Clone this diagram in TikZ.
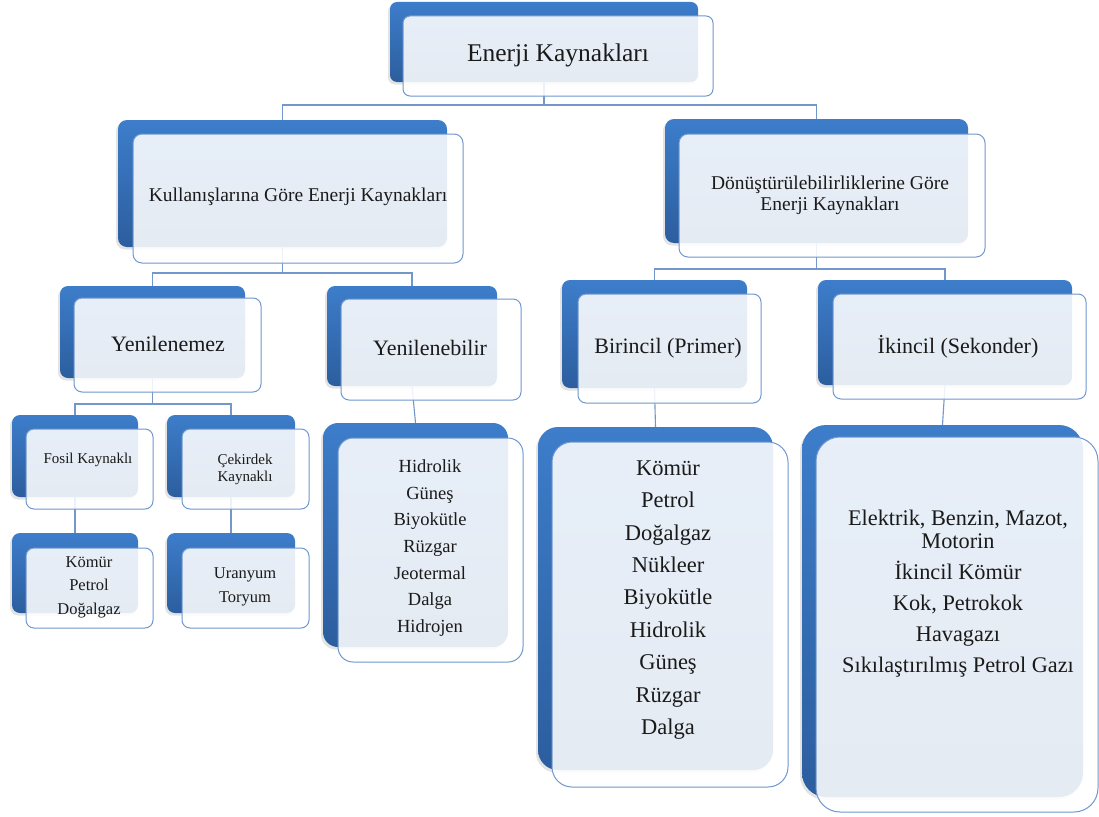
\documentclass[tikz,border=0pt]{standalone}
\usepackage{fontspec}
\setmainfont{Liberation Serif}
\usetikzlibrary{shadows}
\pgfdeclarelayer{bgzero}
\pgfdeclarelayer{bgconn}
\pgfsetlayers{bgzero,bgconn,main}
\definecolor{bTop}{HTML}{3D7DCA}
\definecolor{bBot}{HTML}{2C5E9E}
\definecolor{fBorder}{HTML}{7098CF}
\definecolor{cConn}{HTML}{7397CB}
\definecolor{cTxt}{HTML}{1A1A1A}
\tikzset{
  backbox/.style={rectangle, inner sep=0pt, outer sep=0pt, top color=bTop, bottom color=bBot, draw=none,
    drop shadow={shadow xshift=-2pt, shadow yshift=-2.5pt, opacity=.22}},
  frontbox/.style={rectangle, inner sep=0pt, outer sep=0pt, draw=fBorder, line width=1pt, fill=white, fill opacity=.88},
  connector/.style={draw=cConn, line width=1.1pt},
  lbl/.style={text=cTxt, align=center, inner sep=0pt},
}
\newcommand\mkbox[7]{%
  \pgfmathsetmacro\bxcx{(#3+#5)/2}\pgfmathsetmacro\bxcy{(#4+#6)/2}%
  \pgfmathsetmacro\bxw{#5-#3}\pgfmathsetmacro\bxh{#6-#4}%
  \node[#2, rounded corners=#7pt, minimum width=\bxw pt, minimum height=\bxh pt] (#1) at (\bxcx,\bxcy) {};%
}
\begin{document}
\begin{tikzpicture}[x=1pt,y=-1pt]
\begin{pgfonlayer}{bgzero}
\useasboundingbox[fill=white] (0,0) rectangle (1099,816);
\end{pgfonlayer}

% level 0
\mkbox{root-b}{backbox}{390}{2}{698}{82}{7}
\mkbox{root}{frontbox}{403}{16}{713}{96}{7}
\node[lbl,font=\fontsize{25.5}{28}\selectfont] (root-t) at (558,55) {Enerji Kaynakları};

% level 1
\mkbox{ka-b}{backbox}{118}{120}{447}{247}{9}
\mkbox{ka}{frontbox}{133}{134}{463}{263}{9}
\node[lbl,font=\fontsize{19.5}{21}\selectfont] (ka-t) at (298,197) {Kullanışlarına Göre Enerji Kaynakları};

\mkbox{do-b}{backbox}{665}{119}{968}{243}{9}
\mkbox{do}{frontbox}{679}{134}{985}{257}{9}
\node[lbl,font=\fontsize{19.5}{21}\selectfont] (do-t) at (830,195) {Dönüştürülebilirliklerine Göre\\Enerji Kaynakları};

% level 2
\mkbox{ym-b}{backbox}{60}{286}{245}{378}{8}
\mkbox{ym}{frontbox}{74}{298}{261}{392}{8}
\node[lbl,font=\fontsize{22}{24}\selectfont] (ym-t) at (168,344) {Yenilenemez};

\mkbox{yb-b}{backbox}{327}{286}{497}{386}{8}
\mkbox{yb}{frontbox}{341}{299}{521}{400}{8}
\node[lbl,font=\fontsize{22}{24}\selectfont] (yb-t) at (430,348) {Yenilenebilir};

\mkbox{bi-b}{backbox}{562}{280}{747}{388}{8}
\mkbox{bi}{frontbox}{578}{294}{761}{403}{8}
\node[lbl,font=\fontsize{22}{24}\selectfont] (bi-t) at (668,348) {Birincil (Primer)};

\mkbox{ik-b}{backbox}{818}{280}{1072}{385}{8}
\mkbox{ik}{frontbox}{833}{294}{1086}{399}{8}
\node[lbl,font=\fontsize{22}{24}\selectfont] (ik-t) at (958,347) {İkincil (Sekonder)};

% level 3
\mkbox{fo-b}{backbox}{12}{415}{138}{497}{8}
\mkbox{fo}{frontbox}{26}{429}{153}{509}{8}
\node[lbl,font=\fontsize{15}{17}\selectfont] (fo-t) at (88,460) {Fosil Kaynaklı};

\mkbox{ce-b}{backbox}{167}{415}{295}{497}{8}
\mkbox{ce}{frontbox}{182}{429}{309}{509}{8}
\node[lbl,font=\fontsize{15}{17}\selectfont] (ce-t) at (245,469) {Çekirdek\\Kaynaklı};

\mkbox{ybl-b}{backbox}{323}{423}{508}{647}{15}
\mkbox{ybl}{frontbox}{338}{438}{523}{662}{15}
\node[lbl,font=\fontsize{18.5}{26.7}\selectfont] (ybl-t) at (430,548) {Hidrolik\\Güneş\\Biyokütle\\Rüzgar\\Jeotermal\\Dalga\\Hidrojen};

\mkbox{bil-b}{backbox}{538}{427}{773}{770}{20}
\mkbox{bil}{frontbox}{552}{442}{788}{787}{20}
\node[lbl,font=\fontsize{22.5}{32.4}\selectfont] (bil-t) at (668,600) {Kömür\\Petrol\\Doğalgaz\\Nükleer\\Biyokütle\\Hidrolik\\Güneş\\Rüzgar\\Dalga};

\mkbox{ikl-b}{backbox}{802}{425}{1083}{797}{24}
\mkbox{ikl}{frontbox}{816}{437}{1098}{812}{24}
\node[lbl,font=\fontsize{22.3}{23}\selectfont] (ikl-t) at (958,594) {Elektrik, Benzin, Mazot,\\Motorin\\[8pt]İkincil Kömür\\[8pt]Kok, Petrokok\\[8pt]Havagazı\\[8pt]Sıkılaştırılmış Petrol Gazı};

% level 4
\mkbox{fol-b}{backbox}{12}{533}{138}{613}{8}
\mkbox{fol}{frontbox}{26}{548}{153}{628}{8}
\node[lbl,font=\fontsize{16.5}{23.5}\selectfont] (fol-t) at (89,587) {Kömür\\Petrol\\Doğalgaz};

\mkbox{cel-b}{backbox}{167}{533}{295}{613}{8}
\mkbox{cel}{frontbox}{182}{548}{309}{628}{8}
\node[lbl,font=\fontsize{16.5}{24}\selectfont] (cel-t) at (245,587) {Uranyum\\Toryum};

% connectors
\begin{pgfonlayer}{bgconn}
\draw[connector] (root-b.south) -- ++(0,23) coordinate (j0) -| (ka-b.north)
                 (j0) -| (do-b.north);
\draw[connector] (ka-b.south) -- ++(0,26) coordinate (j1) -| (ym-b.north)
                 (j1) -| (yb-b.north);
\draw[connector] (do-b.south) -- ++(0,26) coordinate (j2) -| (bi-b.north)
                 (j2) -| (ik-b.north);
\draw[connector] (ym-b.south) -- ++(0,26) coordinate (j3) -| (fo-b.north)
                 (j3) -| (ce-b.north);
\draw[connector] (yb-b.south) -- (ybl-b.north);
\draw[connector] (bi-b.south) -- (bil-b.north);
\draw[connector] (ik-b.south) -- (ikl-b.north);
\draw[connector] (fo-b.south) -- (fol-b.north);
\draw[connector] (ce-b.south) -- (cel-b.north);
\end{pgfonlayer}
\end{tikzpicture}
\end{document}
